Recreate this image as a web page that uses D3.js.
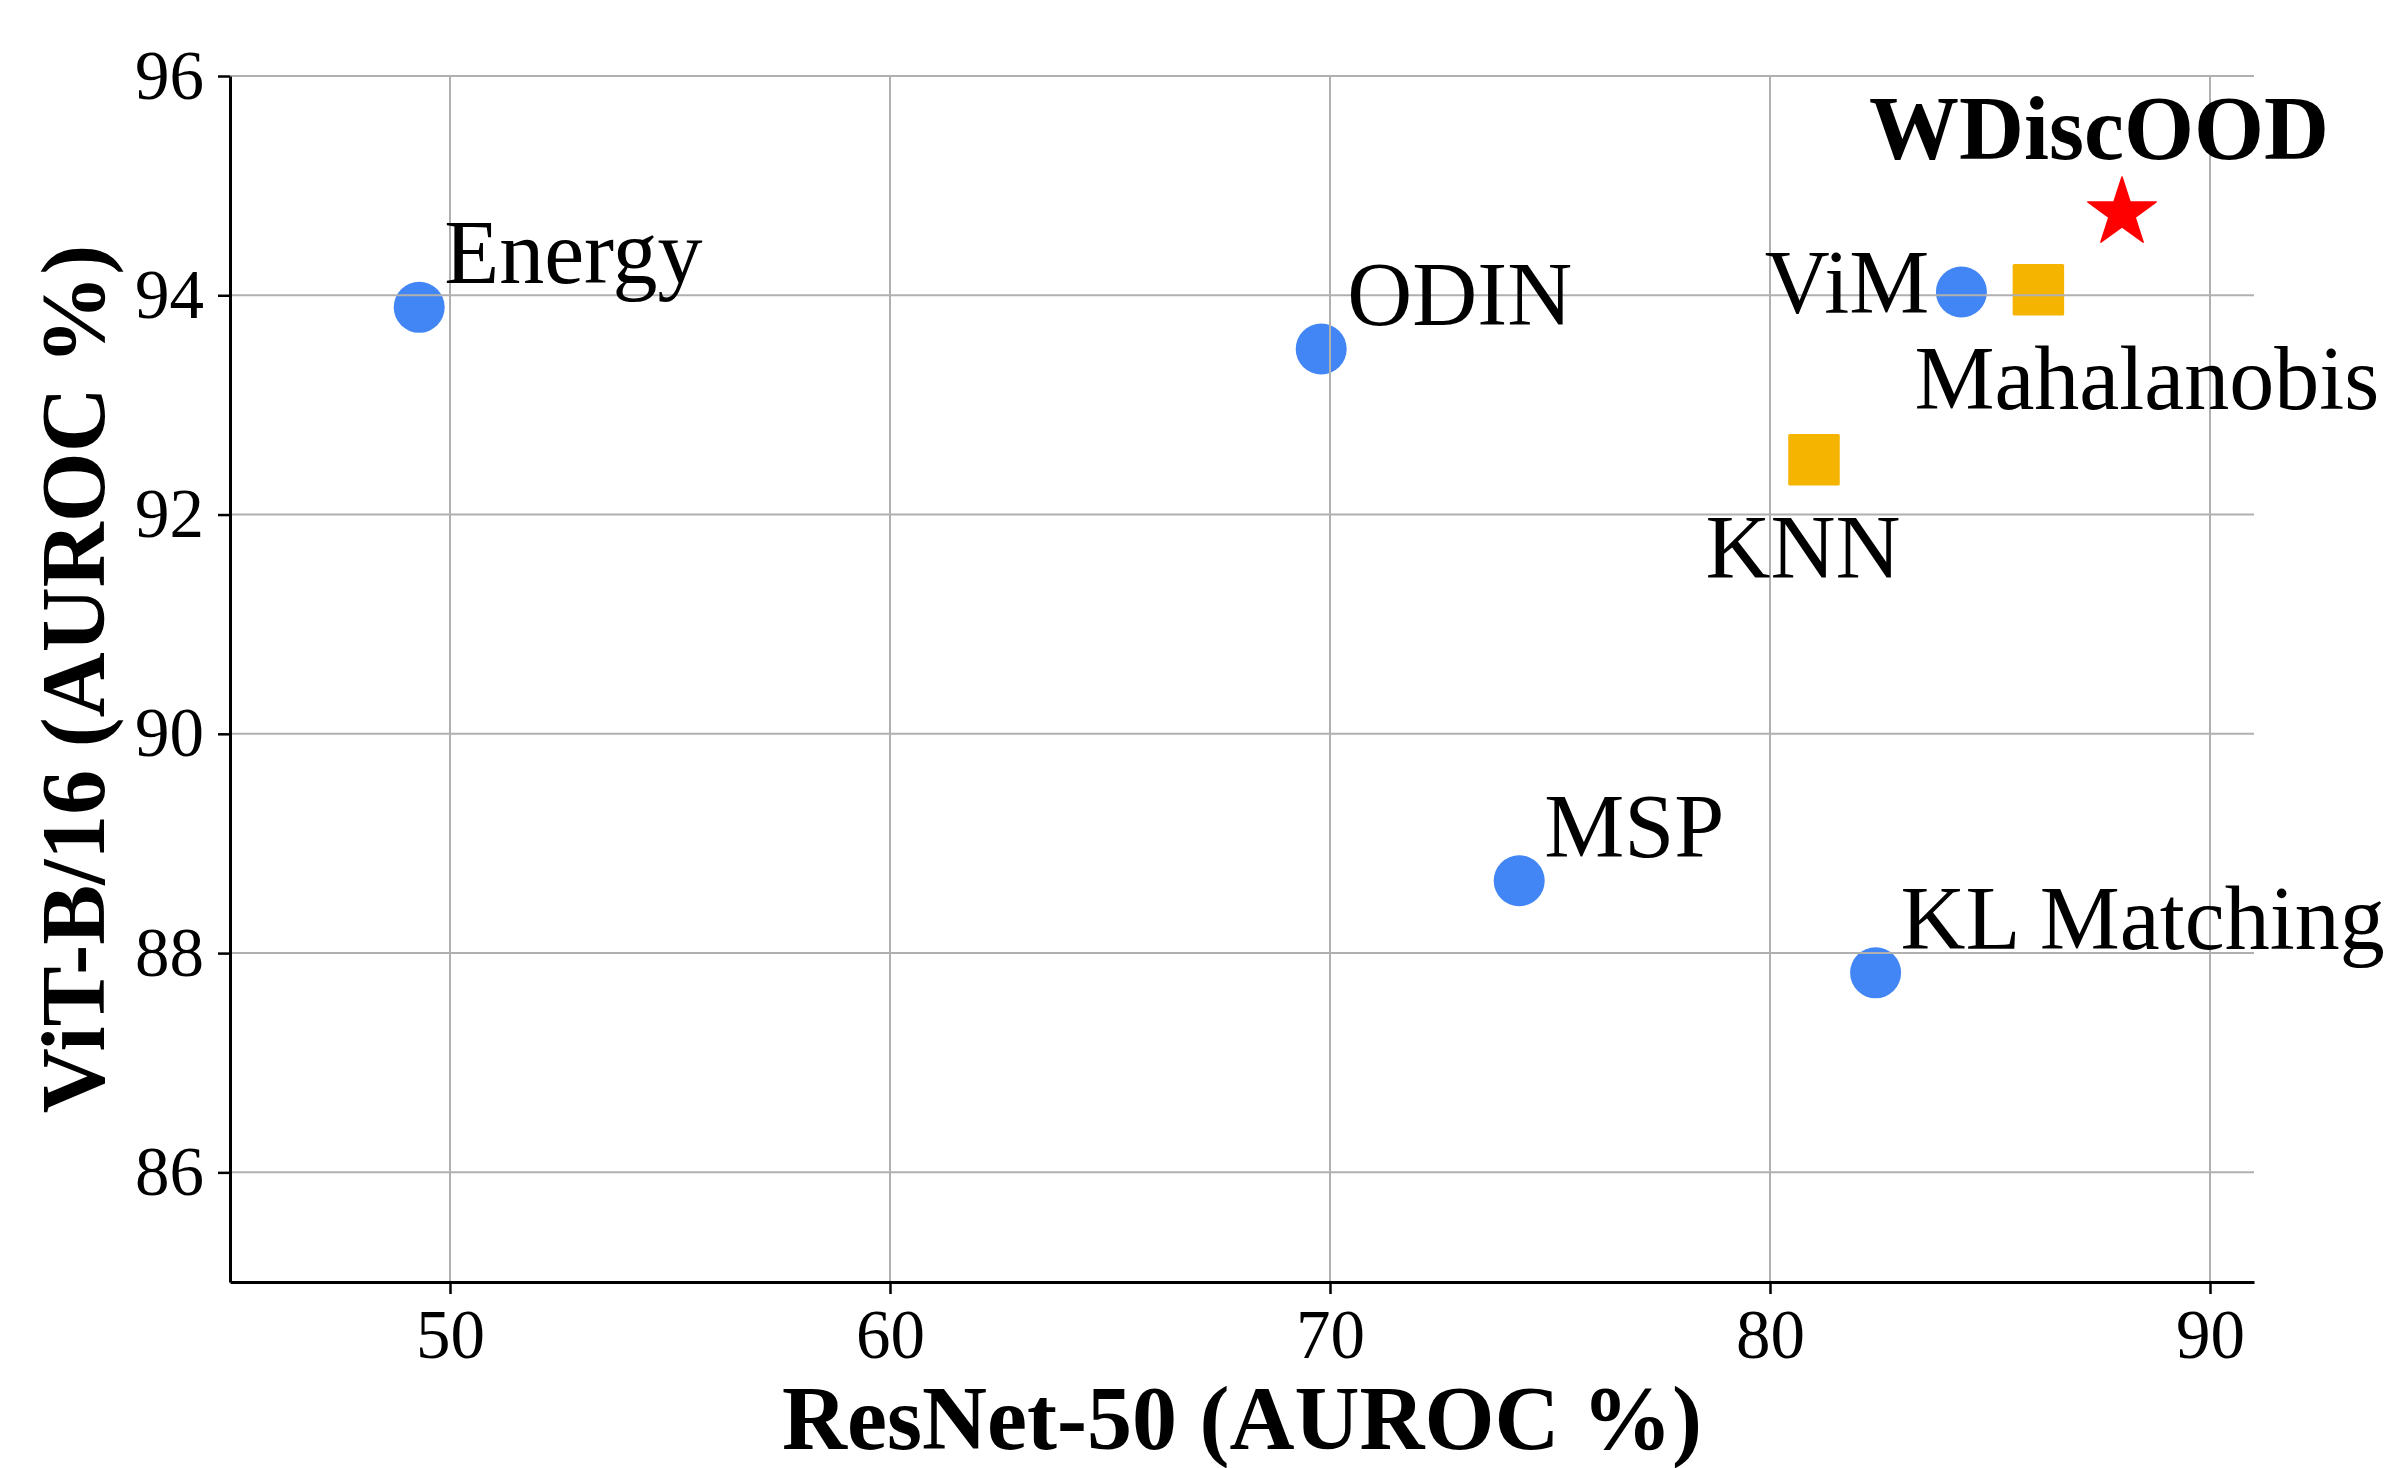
<!DOCTYPE html>
<html>
<head>
  <meta charset="UTF-8">
  <script src="https://d3js.org/d3.v7.min.js"></script>
  <title>ResNet-50 vs ViT-B/16 AUROC</title>
  <style>
    body {
      margin: 0;
      background: #fff;
      font-family: "Liberation Serif", "Times New Roman", serif;
    }
    svg { display: block; }
  </style>
</head>
<body>
  <svg id="chart" width="2399" height="1468"></svg>

  <script>
    // Data
    const methods = ["Energy", "ODIN", "MSP", "KL Matching", "ViM", "Mahalanobis", "KNN", "WDiscOOD"];
    const resnetAuroc = [49.3, 69.8, 74.3, 82.4, 84.35, 86.1, 81.0, 88.0];
    const vitAuroc = [93.89, 93.51, 88.66, 87.82, 94.03, 94.05, 92.5, 94.75];
    const markerKind = ["logit", "logit", "logit", "logit", "logit", "feature", "feature", "ours"];

    const xTicks = [50, 60, 70, 80, 90];
    const yTicks = [86, 88, 90, 92, 94, 96];

    // label placement (pixel offsets from the marker, like matplotlib xytext)
    const labelStyle = {
      "Energy":      { dx: 25, dy: -24, anchor: "start" },
      "ODIN":        { dx: 26, dy: -24, anchor: "start" },
      "MSP":         { dx: 25, dy: -24, anchor: "start" },
      "KL Matching": { dx: 25, dy: -24, anchor: "start" },
      "ViM":         { dx: -32, dy: 21, anchor: "end" },
      "Mahalanobis": { dx: -124, dy: 119, anchor: "start" },
      "KNN":         { dx: -11, dy: 118, anchor: "middle" },
      "WDiscOOD":    { dx: -23, dy: -54, anchor: "middle", bold: true }
    };

    const colors = { logit: "#4285F4", feature: "#F4B400", ours: "#FF0000" };

    const svg = d3.select("#chart");
    const margin = { left: 230, right: 145, top: 76, bottom: 186 };
    const width = 2399, height = 1468;

    const x = d3.scaleLinear().domain([45, 91]).range([margin.left, width - margin.right]);
    const y = d3.scaleLinear().domain([85, 96]).range([height - margin.bottom, margin.top]);

    svg.append("rect").attr("width", width).attr("height", height).attr("fill", "#fff");

    const points = methods.map((m, i) => ({
      name: m, rx: resnetAuroc[i], vy: vitAuroc[i], kind: markerKind[i]
    }));

    // markers (grid is drawn over them, as in the original)
    const marks = svg.append("g");
    marks.selectAll("circle")
      .data(points.filter(d => d.kind === "logit"))
      .enter().append("circle")
      .attr("cx", d => x(d.rx))
      .attr("cy", d => y(d.vy))
      .attr("r", 25.5)
      .attr("fill", colors.logit);

    const side = 51.5;
    marks.selectAll("rect")
      .data(points.filter(d => d.kind === "feature"))
      .enter().append("rect")
      .attr("x", d => x(d.rx) - side / 2)
      .attr("y", d => y(d.vy) - side / 2)
      .attr("width", side)
      .attr("height", side)
      .attr("rx", 1.5)
      .attr("fill", colors.feature);

    const star = d3.symbol().type(d3.symbolStar).size(36 * 36 / 0.8908130915292852);
    marks.selectAll("path.star")
      .data(points.filter(d => d.kind === "ours"))
      .enter().append("path")
      .attr("class", "star")
      .attr("d", star)
      .attr("transform", d => `translate(${x(d.rx)},${y(d.vy)})`)
      .attr("fill", colors.ours)
      .attr("stroke", colors.ours)
      .attr("stroke-width", 1.5)
      .attr("stroke-linejoin", "round");

    // grid
    const grid = svg.append("g").attr("stroke", "#b0b0b0").attr("stroke-width", 2);
    grid.selectAll("line.gx").data(xTicks).enter().append("line")
      .attr("x1", d => x(d)).attr("x2", d => x(d))
      .attr("y1", y(85)).attr("y2", y(96));
    grid.selectAll("line.gy").data(yTicks).enter().append("line")
      .attr("x1", x(45)).attr("x2", x(91))
      .attr("y1", d => y(d)).attr("y2", d => y(d));

    // axes
    const xAxis = d3.axisBottom(x).tickValues(xTicks).tickSize(12).tickPadding(12).tickSizeOuter(0);
    const yAxis = d3.axisLeft(y).tickValues(yTicks).tickSize(12).tickPadding(14).tickSizeOuter(0);

    const gx = svg.append("g").attr("transform", `translate(0,${y(85)})`).call(xAxis);
    const gy = svg.append("g").attr("transform", `translate(${x(45)},0)`).call(yAxis);

    [gx, gy].forEach(g => {
      g.select(".domain").attr("stroke", "#000").attr("stroke-width", 3);
      g.selectAll(".tick line").attr("stroke", "#000").attr("stroke-width", 2.5);
      g.selectAll(".tick text")
        .attr("fill", "#000")
        .style("font-family", "'Liberation Serif', 'Times New Roman', serif")
        .style("font-size", "69px");
    });
    gx.selectAll(".tick text").attr("dy", "0.76em");

    // labels
    svg.append("g").selectAll("text")
      .data(points)
      .enter().append("text")
      .attr("x", d => x(d.rx) + labelStyle[d.name].dx)
      .attr("y", d => y(d.vy) + labelStyle[d.name].dy)
      .attr("text-anchor", d => labelStyle[d.name].anchor)
      .style("font-size", "90px")
      .style("font-weight", d => labelStyle[d.name].bold ? "bold" : "normal")
      .text(d => d.name);

    // axis titles
    svg.append("text")
      .attr("x", (x(45) + x(91)) / 2)
      .attr("y", 1449)
      .attr("text-anchor", "middle")
      .style("font-size", "90px")
      .style("font-weight", "bold")
      .text("ResNet-50 (AUROC %)");

    svg.append("text")
      .attr("transform", `translate(104,${(y(85) + y(96)) / 2}) rotate(-90)`)
      .attr("text-anchor", "middle")
      .style("font-size", "90px")
      .style("font-weight", "bold")
      .text("ViT-B/16 (AUROC %)");
  </script>
</body>
</html>
